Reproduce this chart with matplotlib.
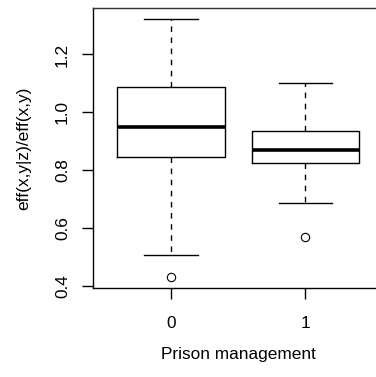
import matplotlib
matplotlib.use('Agg')
import matplotlib.pyplot as plt

# Box statistics
groups = ['0', '1']
whisk_lo = [0.505, 0.687]
q1 = [0.845, 0.825]
med = [0.950, 0.871]
q3 = [1.088, 0.936]
whisk_hi = [1.323, 1.100]
outliers = [[0.430], [0.570]]
yticks = [0.4, 0.6, 0.8, 1.0, 1.2]

plt.rcParams['font.family'] = ['Liberation Sans', 'DejaVu Sans']

fig = plt.figure(figsize=(3.76, 3.77), dpi=100)
ax = fig.add_axes([93 / 376, 89 / 377, 290.4 / 376, 280 / 377])

stats = []
for i, g in enumerate(groups):
    stats.append(dict(label=g, whislo=whisk_lo[i], q1=q1[i], med=med[i],
                      q3=q3[i], whishi=whisk_hi[i], fliers=outliers[i]))

ax.bxp(stats, positions=[1, 2], widths=0.8, showfliers=True,
       boxprops=dict(color='black', linewidth=1),
       medianprops=dict(color='black', linewidth=2.6),
       whiskerprops=dict(color='black', linewidth=1, linestyle=(0, (4, 4))),
       capprops=dict(color='black', linewidth=1),
       capwidths=0.4,
       flierprops=dict(marker='o', markerfacecolor='none', markeredgecolor='black',
                       markersize=6, markeredgewidth=0.8))

ax.set_xlim(0.42, 2.58)
ax.set_ylim(0.3922, 1.3608)
ax.set_yticks(yticks)
ax.set_yticklabels(['0.4', '0.6', '0.8', '1.0', '1.2'], rotation=90, va='center')
ax.set_xticks([1, 2])
ax.set_xticklabels(groups)
ax.tick_params(axis='both', length=8, width=1, labelsize=12.4)
ax.tick_params(axis='x', pad=12.5)
ax.tick_params(axis='y', pad=8.5)
for s in ax.spines.values():
    s.set_linewidth(1)
    s.set_color('#333333')
ax.spines['left'].set_color('black')
ax.spines['bottom'].set_color('black')

ax.set_xlabel('Prison management', fontsize=12.4, labelpad=11.5)
ax.set_ylabel('eff(x,y|z)/eff(x,y)', fontsize=12.4, labelpad=17)

fig.savefig('out.png', dpi=100)
